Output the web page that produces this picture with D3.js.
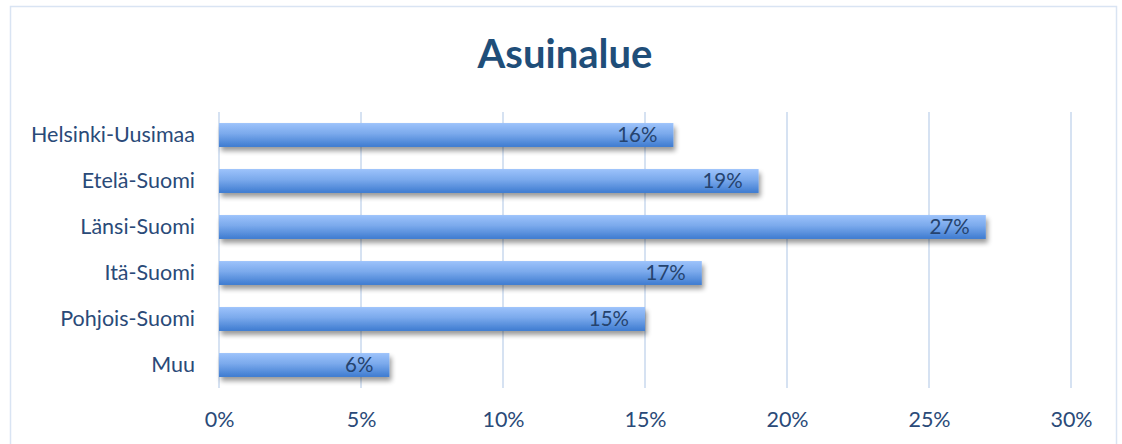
<!DOCTYPE html>
<html>
<head>
<meta charset="utf-8">
<script src="https://cdn.jsdelivr.net/npm/d3@7"></script>
<style>
  html, body { margin: 0; padding: 0; background: #fff; }
  svg { display: block; }
  text { font-family: "Lato", "Open Sans", sans-serif; }
</style>
</head>
<body>
<script>
// Chart data
const categories = ["Helsinki-Uusimaa", "Etelä-Suomi", "Länsi-Suomi", "Itä-Suomi", "Pohjois-Suomi", "Muu"];
const values = [0.16, 0.19, 0.27, 0.17, 0.15, 0.06];
const tickValues = [0, 0.05, 0.10, 0.15, 0.20, 0.25, 0.30];
const title = "Asuinalue";

const W = 1122, H = 444;
const margin = { left: 219, right: 51, top: 112, bottom: 56 };
const textColor = "#2a4a78";
const fontStack = "Lato, 'Open Sans', sans-serif";

const svg = d3.select("body").append("svg").attr("width", W).attr("height", H);

// Gradient and shadow definitions for the bars
const defs = svg.append("defs");
const grad = defs.append("linearGradient").attr("id", "barGrad")
  .attr("x1", 0).attr("y1", 0).attr("x2", 0).attr("y2", 1);
grad.append("stop").attr("offset", "0%").attr("stop-color", "#9dc3fb");
grad.append("stop").attr("offset", "45%").attr("stop-color", "#7aa9ec");
grad.append("stop").attr("offset", "100%").attr("stop-color", "#3d7bd0");

const shadow = defs.append("filter").attr("id", "barShadow")
  .attr("x", "-5%").attr("y", "-30%").attr("width", "115%").attr("height", "190%");
shadow.append("feGaussianBlur").attr("in", "SourceAlpha").attr("stdDeviation", 2.5).attr("result", "b");
shadow.append("feOffset").attr("in", "b").attr("dx", 2).attr("dy", 3.5).attr("result", "o");
shadow.append("feComponentTransfer").attr("in", "o").attr("result", "s")
  .append("feFuncA").attr("type", "linear").attr("slope", 0.4);
const merge = shadow.append("feMerge");
merge.append("feMergeNode").attr("in", "s");
merge.append("feMergeNode").attr("in", "SourceGraphic");

// Outer chart frame
svg.append("rect")
  .attr("x", 10.5).attr("y", 6.5).attr("width", 1106).attr("height", 450)
  .attr("fill", "none").attr("stroke", "#d9e4f3").attr("stroke-width", 1.5);

// Title
svg.append("text")
  .attr("x", 565).attr("y", 68)
  .attr("text-anchor", "middle")
  .attr("font-size", 40).attr("font-weight", "bold")
  .attr("fill", "#1f4e79")
  .text(title);

const x = d3.scaleLinear().domain([0, 0.30]).range([margin.left, W - margin.right]);
const y = d3.scaleBand().domain(categories)
  .range([margin.top, H - margin.bottom])
  .paddingInner(0.48).paddingOuter(0.24);

// Vertical gridlines
svg.append("g").selectAll("line").data(tickValues).join("line")
  .attr("x1", d => x(d)).attr("x2", d => x(d))
  .attr("y1", margin.top).attr("y2", H - margin.bottom)
  .attr("stroke", "#d6e2f2").attr("stroke-width", 2);

// Bottom axis tick labels
const xAxis = d3.axisBottom(x).tickValues(tickValues)
  .tickFormat(d3.format(".0%")).tickSize(0).tickPadding(0);
const gx = svg.append("g")
  .attr("transform", `translate(0,${H - margin.bottom})`)
  .call(xAxis);
gx.select(".domain").remove();
gx.selectAll("text")
  .attr("dy", 0).attr("y", 39)
  .attr("font-size", 21.5).attr("fill", textColor)
  .style("font-family", fontStack);

// Category labels
const yAxis = d3.axisLeft(y).tickSize(0).tickPadding(24);
const gy = svg.append("g").attr("transform", `translate(${margin.left},0)`).call(yAxis);
gy.select(".domain").remove();
gy.selectAll("text")
  .attr("font-size", 21.5).attr("fill", textColor)
  .style("font-family", fontStack);

// Bars
svg.append("g").selectAll("rect").data(categories).join("rect")
  .attr("x", x(0))
  .attr("y", d => y(d))
  .attr("width", (d, i) => x(values[i]) - x(0))
  .attr("height", y.bandwidth())
  .attr("fill", "url(#barGrad)")
  .attr("filter", "url(#barShadow)");

// Value labels inside the bar ends
svg.append("g").selectAll("text").data(categories).join("text")
  .attr("x", (d, i) => x(values[i]) - 16)
  .attr("y", d => y(d) + y.bandwidth() / 2)
  .attr("dy", "0.36em")
  .attr("text-anchor", "end")
  .attr("font-size", 20.5).attr("fill", "#25436e")
  .text((d, i) => d3.format(".0%")(values[i]));
</script>
</body>
</html>
